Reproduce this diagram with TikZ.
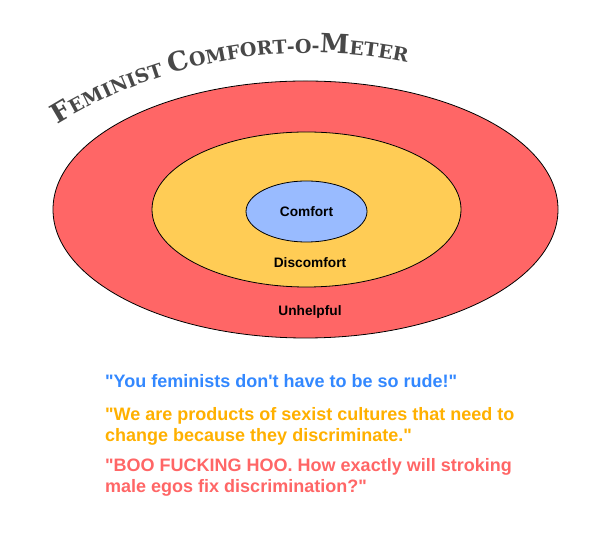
\documentclass[tikz,border=0pt]{standalone}
\usepackage{fontspec}
\setmainfont{Liberation Sans}[Ligatures=TeXOff]
\newfontfamily\titlefont{DejaVu Serif}
\usepackage{xcolor}
\usepackage{tikz}
\usetikzlibrary{shapes.geometric, decorations.text, positioning}

\definecolor{ringred}{RGB}{255,102,102}
\definecolor{ringyellow}{RGB}{255,204,85}
\definecolor{ringblue}{RGB}{153,187,255}
\definecolor{quoteblue}{RGB}{51,136,255}
\definecolor{quoteyellow}{RGB}{255,176,0}
\definecolor{quotered}{RGB}{255,102,102}
\definecolor{titlegray}{RGB}{72,72,72}

\newcommand\titlebig{\titlefont\bfseries\fontsize{26.5}{30}\selectfont}
\newcommand\titlesmall{\titlefont\bfseries\fontsize{19}{22}\selectfont}

\begin{document}
\begin{tikzpicture}[
    x=1pt, y=1pt,
    ring/.style  ={ellipse, draw=black, line width=0.8pt, inner sep=0pt},
    lbl/.style   ={font=\fontsize{13.7}{16}\selectfont\bfseries, inner sep=0pt},
    quote/.style ={font=\fontsize{18}{21.7}\selectfont\bfseries, align=left,
                   anchor=base west, inner sep=0pt},
]
\useasboundingbox (0,0) rectangle (612,540);

% ---- Rings ----
\node[ring, fill=ringred, minimum width=505pt, minimum height=257pt] (unhelpful) at (305.5,330.5) {};
\node[ring, fill=ringyellow, minimum width=309pt, minimum height=155pt] (discomfort) at (306.5,330.5) {};
\node[ring, lbl, fill=ringblue, minimum width=121pt, minimum height=61pt] (comfort) at (306.5,328.5) {Comfort};

\node[lbl, anchor=base] (discomfortlbl) at (310,272.5) {Discomfort};
\node[lbl, anchor=base] (unhelpfullbl)  at (310,224.5) {Unhelpful};

% ---- Title ----
\path[decorate, decoration={text along path, text align=center, text color=titlegray,
    text={|\titlebig|F|\titlesmall|EMINIST |\titlebig|C|\titlesmall|OMFORT-O-|\titlebig|M|\titlesmall|ETER}}]
  (310,6) ++(122:481pt) arc[start angle=122, end angle=78, radius=481pt];

% ---- Quotes ----
% base of a two-line node is its last line
\node[quote, text=quoteblue]   (rude)     at (105,152) {"You feminists don't have to be so rude!"};
\node[quote, text=quoteyellow] (products) at (105,98)  {"We are products of sexist cultures that need to\\change because they discriminate."};
\node[quote, text=quotered]    (boohoo)   at (105,47)  {"BOO FUCKING HOO. How exactly will stroking\\male egos fix discrimination?"};

\end{tikzpicture}
\end{document}
